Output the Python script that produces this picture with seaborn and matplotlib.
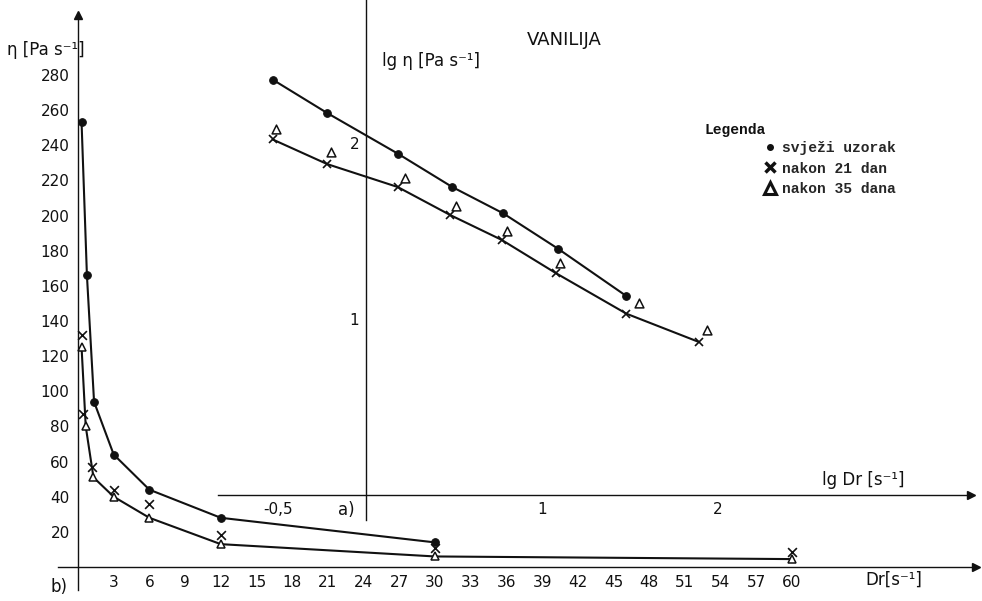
import matplotlib
matplotlib.use("Agg")
import matplotlib.pyplot as plt
import seaborn as sns
import pandas as pd
from matplotlib.lines import Line2D
from matplotlib.font_manager import FontProperties

# b) viscosity vs shear rate
dr_fresh = [0.3, 0.75, 1.35, 3, 6, 12, 30]
eta_fresh = [253, 166, 94, 64, 44, 28, 14]
dr_21 = [0.3, 0.45, 1.2, 3, 6, 12, 30, 60]
eta_21 = [132, 87, 57, 44, 36, 18, 11, 8.5]
dr_35 = [0.3, 0.65, 1.3, 3, 6, 12, 30, 60]
eta_35 = [125, 80, 51, 40, 28, 13, 6, 4.5]

# a) log-log inset
lg_dr_fresh = [-0.53, -0.22, 0.18, 0.49, 0.78, 1.09, 1.48]
lg_eta_fresh = [2.36, 2.17, 1.94, 1.75, 1.60, 1.40, 1.13]
lg_dr_21 = [-0.53, -0.22, 0.18, 0.48, 0.77, 1.08, 1.48, 1.89]
lg_eta_21 = [2.02, 1.88, 1.75, 1.59, 1.45, 1.26, 1.03, 0.87]
lg_dr_35 = [-0.51, -0.20, 0.22, 0.51, 0.80, 1.10, 1.55, 1.94]
lg_eta_35 = [2.08, 1.95, 1.80, 1.64, 1.50, 1.32, 1.09, 0.94]

x_ticks = list(range(3, 61, 3))
y_ticks = list(range(20, 281, 20))
lg_x_ticks = [-0.5, 1, 2]
lg_x_labels = ["-0,5", "1", "2"]
lg_y_ticks = [1, 2]

legend_labels = ["svježi uzorak", "nakon 21 dan", "nakon 35 dana"]

sns.set_style("white")
plt.rcParams["font.family"] = ["DejaVu Sans"]
ink = "#111111"

W, H = 982, 601
fig = plt.figure(figsize=(W / 100, H / 100), dpi=100)

# main axes (b)
ax = fig.add_axes([0, 0, 1, 1])
ax.patch.set_alpha(0)
sx, sy = 11.9, 1.757
ax.set_xlim(-78 / sx, (W - 78) / sx)
ax.set_ylim(-(H - 567) / sy, 567 / sy)
for s in ["top", "right"]:
    ax.spines[s].set_visible(False)
ax.spines["left"].set_position(("data", 0))
ax.spines["bottom"].set_position(("data", 0))
ax.spines["left"].set_bounds(-13, 314)
ax.spines["bottom"].set_bounds(-1.7, 75.5)
for s in ["left", "bottom"]:
    ax.spines[s].set_color(ink)
    ax.spines[s].set_linewidth(1.0)
ax.plot(75.5, 0, marker=">", color=ink, markersize=6, clip_on=False)
ax.plot(0, 314, marker="^", color=ink, markersize=6, clip_on=False)
ax.set_xticks(x_ticks)
ax.set_xticklabels([str(v) for v in x_ticks])
ax.set_yticks(y_ticks + [300])
ax.set_yticklabels([str(v) for v in y_ticks] + [""])
ax.tick_params(direction="inout", length=8, width=1, labelsize=11, colors=ink, pad=2)

fresh = pd.DataFrame({"dr": dr_fresh, "eta": eta_fresh})
d35 = pd.DataFrame({"dr": dr_35, "eta": eta_35})
sns.lineplot(data=fresh, x="dr", y="eta", ax=ax, color=ink, lw=1.5, marker="o",
             markersize=5.5, markeredgecolor=ink, estimator=None)
sns.lineplot(data=d35, x="dr", y="eta", ax=ax, color=ink, lw=1.5, marker="^",
             markersize=6, markerfacecolor="white", markeredgecolor=ink,
             markeredgewidth=1.1, estimator=None)
sns.scatterplot(x=dr_21, y=eta_21, ax=ax, marker="x", color=ink, s=40, linewidth=1.2)
ax.set_xlabel("")
ax.set_ylabel("")

# inset axes (a)
ax2 = fig.add_axes([0, 0, 1, 1])
ax2.patch.set_alpha(0)
sl = 176
ax2.set_xlim(-366 / sl, (W - 366) / sl)
ax2.set_ylim(-(H - 495) / sl, 495 / sl)
for s in ["top", "right"]:
    ax2.spines[s].set_visible(False)
ax2.spines["left"].set_position(("data", 0))
ax2.spines["bottom"].set_position(("data", 0))
ax2.spines["left"].set_bounds(-0.14, 2.85)
ax2.spines["bottom"].set_bounds(-0.84, 3.44)
for s in ["left", "bottom"]:
    ax2.spines[s].set_color(ink)
    ax2.spines[s].set_linewidth(1.0)
ax2.plot(3.44, 0, marker=">", color=ink, markersize=6, clip_on=False)
ax2.set_xticks(lg_x_ticks)
ax2.set_xticklabels(lg_x_labels)
ax2.set_yticks(lg_y_ticks)
ax2.set_yticklabels([str(v) for v in lg_y_ticks])
ax2.tick_params(direction="inout", length=8, width=1, labelsize=11, colors=ink, pad=1)

lg_fresh = pd.DataFrame({"x": lg_dr_fresh, "y": lg_eta_fresh})
lg21 = pd.DataFrame({"x": lg_dr_21, "y": lg_eta_21})
sns.lineplot(data=lg_fresh, x="x", y="y", ax=ax2, color=ink, lw=1.5, marker="o",
             markersize=5.5, markeredgecolor=ink, estimator=None)
sns.lineplot(data=lg21, x="x", y="y", ax=ax2, color=ink, lw=1.5, marker="x",
             markersize=6, markeredgecolor=ink, markeredgewidth=1.2, estimator=None)
sns.scatterplot(x=lg_dr_35, y=lg_eta_35, ax=ax2, marker="^", facecolor="white",
                edgecolor=ink, s=40, linewidth=1.1)
ax2.set_xlabel("")
ax2.set_ylabel("")


def ftext(px, py, s, **kw):
    fig.text(px / W, 1 - py / H, s, va="center", color=ink, **kw)


ftext(7, 50, "η [Pa s⁻¹]", fontsize=12)
ftext(382, 61, "lg η [Pa s⁻¹]", fontsize=12)
ftext(527, 40, "VANILIJA", fontsize=13)
ftext(822, 480, "lg Dr [s⁻¹]", fontsize=12)
ftext(865, 580, "Dr[s⁻¹]", fontsize=12)
ftext(338, 510, "a)", fontsize=12)
ftext(50, 587, "b)", fontsize=12)

mono = FontProperties(family="Liberation Mono", weight="bold", size=10.5)
ftext(705, 130, "Legenda", fontproperties=mono)
handles = [
    Line2D([], [], ls="", marker="o", color=ink, markersize=4),
    Line2D([], [], ls="", marker="x", color=ink, markersize=7, markeredgewidth=2.5),
    Line2D([], [], ls="", marker="^", color=ink, markerfacecolor="white",
           markersize=9, markeredgewidth=2.2),
]
fig.legend(handles, legend_labels, loc="upper left",
           bbox_to_anchor=(764 / W, 1 - 141 / H), frameon=False, prop=mono,
           handlelength=0.8, handletextpad=0.4, labelspacing=0.45,
           borderpad=0, borderaxespad=0)

fig.savefig("out.png", dpi=100)
